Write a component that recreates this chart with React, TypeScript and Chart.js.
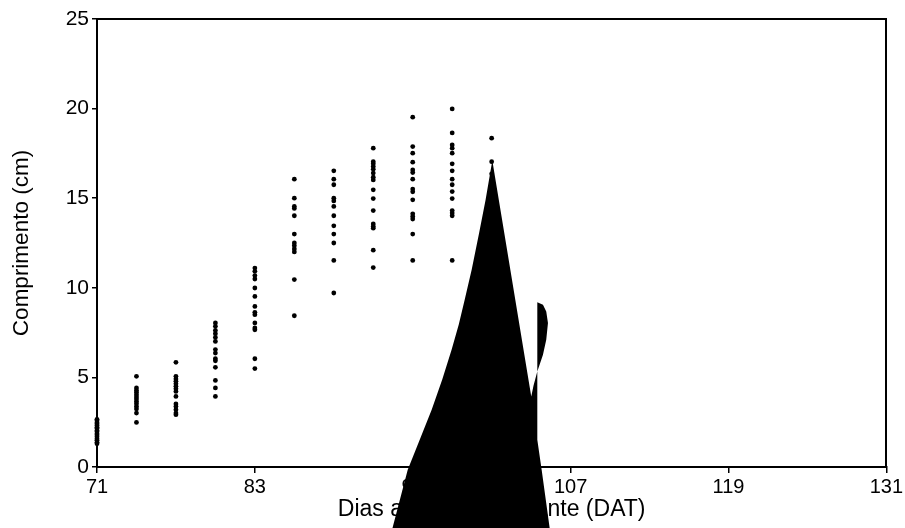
import React, { useEffect, useRef } from "react";
import { Chart, registerables } from "chart.js";

Chart.register(...registerables);

// Days after transplant (DAT) at which lengths were measured
const days = [71, 74, 77, 80, 83, 86, 89, 92, 95, 98, 101];

// Length (cm) observations per day
const len71 = [2.66, 2.58, 2.47, 2.4, 2.31, 2.22, 2.15, 2.04, 1.97, 1.86, 1.78, 1.69, 1.58, 1.49, 1.38, 1.3];
const len74 = [5.06, 4.41, 4.27, 4.16, 4.03, 3.91, 3.79, 3.66, 3.53, 3.38, 3.24, 3.01, 2.49];
const len77 = [5.84, 5.06, 4.91, 4.78, 4.65, 4.5, 4.37, 4.22, 3.94, 3.52, 3.38, 3.2, 3.01, 2.92];
const len80 = [8.04, 7.85, 7.62, 7.44, 7.23, 7.01, 6.55, 6.36, 6.04, 5.93, 5.56, 4.83, 4.41, 3.94];
const len83 = [11.1, 10.92, 10.68, 10.49, 9.99, 9.52, 8.96, 8.63, 8.5, 8.04, 7.76, 7.66, 6.04, 5.49];
const len86 = [16.06, 15.0, 14.54, 14.43, 14.02, 13.0, 12.5, 12.35, 12.17, 12.0, 10.46, 8.44];
const len89 = [16.53, 16.06, 15.75, 15.0, 14.85, 14.54, 14.02, 13.46, 13.0, 12.5, 11.53, 9.71];
const len92 = [17.79, 17.04, 16.92, 16.77, 16.62, 16.4, 16.17, 16.02, 15.47, 14.98, 14.31, 13.56, 13.42, 13.33, 12.1, 11.13];
const len95 = [19.52, 17.88, 17.51, 17.01, 16.58, 16.43, 16.06, 15.51, 15.36, 14.91, 14.13, 13.98, 13.84, 13.0, 11.53];
const len98 = [19.98, 18.64, 17.97, 17.79, 17.51, 16.92, 16.53, 16.06, 15.75, 15.37, 14.98, 14.31, 14.17, 14.02, 11.53];
const len101 = [18.35, 17.04, 16.36];

const lengthsByDay = [len71, len74, len77, len80, len83, len86, len89, len92, len95, len98, len101];

// Tick labels
const xTicks = [71, 83, 95, 107, 119, 131];
const yTicks = [0, 5, 10, 15, 20, 25];

// Black overlay shape outline (data coordinates)
const shapeX = [93.25, 94.62, 95.6, 96.44, 97.25, 97.96, 98.5, 98.95, 99.48, 100.05, 100.54, 101.05, 104.01, 104.18, 104.47, 104.9, 105.15, 105.28, 105.15, 104.9, 104.47, 104.47, 104.8, 105.52];
const shapeY = [-4.0, -0.15, 1.65, 3.2, 4.9, 6.55, 7.95, 9.34, 11.01, 13.07, 14.92, 17.1, 3.94, 4.54, 5.33, 6.27, 7.1, 8.04, 8.68, 9.06, 9.19, 1.52, -0.15, -4.0];

const FONT = "'Liberation Sans', Arial, Helvetica, sans-serif";

// Fills the overlay dataset's own outline (using the pixel positions Chart.js computed
// for it) without clipping to the chart area, so it also covers the axis labels.
const overlayFill = {
  id: "overlayFill",
  afterDatasetsDraw(chart: any) {
    const meta = chart.getDatasetMeta(0);
    const pts = meta.data;
    if (!pts || !pts.length) return;
    const ctx = chart.ctx;
    ctx.save();
    ctx.beginPath();
    pts.forEach((p: any, i: number) => {
      if (i === 0) ctx.moveTo(p.x, p.y);
      else ctx.lineTo(p.x, p.y);
    });
    ctx.closePath();
    ctx.fillStyle = "#000";
    ctx.fill("nonzero");
    ctx.restore();
  },
};

export default function App() {
  const ref = useRef<HTMLCanvasElement | null>(null);

  useEffect(() => {
    document.body.style.margin = "0";
    const points = days.flatMap((d, i) => lengthsByDay[i].map((v) => ({ x: d, y: v })));
    const shape = shapeX.map((x, i) => ({ x, y: shapeY[i] }));

    const chart = new Chart(ref.current as HTMLCanvasElement, {
      type: "scatter",
      data: {
        datasets: [
          {
            type: "line",
            data: shape,
            fill: false,
            showLine: false,
            backgroundColor: "#000",
            borderColor: "#000",
            borderWidth: 0,
            pointRadius: 0,
            tension: 0,
            clip: false,
          } as any,
          {
            type: "scatter",
            data: points,
            pointRadius: 2.4,
            backgroundColor: "#000",
            borderColor: "#000",
            borderWidth: 0,
            clip: false,
          } as any,
        ],
      },
      options: {
        responsive: false,
        animation: false,
        events: [],
        layout: { padding: { left: 0, right: 18, top: 19, bottom: 0 } },
        plugins: { legend: { display: false }, tooltip: { enabled: false } },
        scales: {
          x: {
            type: "linear",
            position: "bottom",
            min: 71,
            max: 131,
            afterBuildTicks: (s: any) => {
              s.ticks = xTicks.map((v) => ({ value: v }));
            },
            afterFit: (s: any) => {
              s.height = 61;
            },
            ticks: { color: "#000", font: { family: FONT, size: 20 }, padding: 2, maxRotation: 0 },
            grid: { display: true, drawOnChartArea: false, drawTicks: true, tickLength: 6, color: "#000", lineWidth: 1.5 },
            border: { display: true, color: "#000", width: 2 },
            title: {
              display: true,
              text: "Dias após o transplante (DAT)",
              color: "#000",
              font: { family: FONT, size: 23 },
              padding: { top: 0, bottom: 5 },
            },
          },
          y: {
            type: "linear",
            position: "left",
            min: 0,
            max: 25,
            afterBuildTicks: (s: any) => {
              s.ticks = yTicks.map((v) => ({ value: v }));
            },
            afterFit: (s: any) => {
              s.width = 97;
            },
            ticks: { color: "#000", font: { family: FONT, size: 21 }, padding: 3 },
            grid: { display: true, drawOnChartArea: false, drawTicks: true, tickLength: 5, color: "#000", lineWidth: 1.5 },
            border: { display: true, color: "#000", width: 2 },
            title: {
              display: true,
              text: "Comprimento (cm)",
              color: "#000",
              font: { family: FONT, size: 22.5 },
              padding: { top: 8, bottom: 0 },
            },
          },
          x2: {
            type: "linear",
            position: "top",
            display: true,
            ticks: { display: false },
            grid: { display: false, drawTicks: false },
            border: { display: true, color: "#000", width: 2 },
            afterFit: (s: any) => {
              s.height = 0;
            },
          },
          y2: {
            type: "linear",
            position: "right",
            display: true,
            ticks: { display: false },
            grid: { display: false, drawTicks: false },
            border: { display: true, color: "#000", width: 2 },
            afterFit: (s: any) => {
              s.width = 0;
            },
          },
        },
      } as any,
      plugins: [overlayFill],
    });
    return () => chart.destroy();
  }, []);

  return <canvas ref={ref} width={905} height={528} style={{ display: "block" }} />;
}
